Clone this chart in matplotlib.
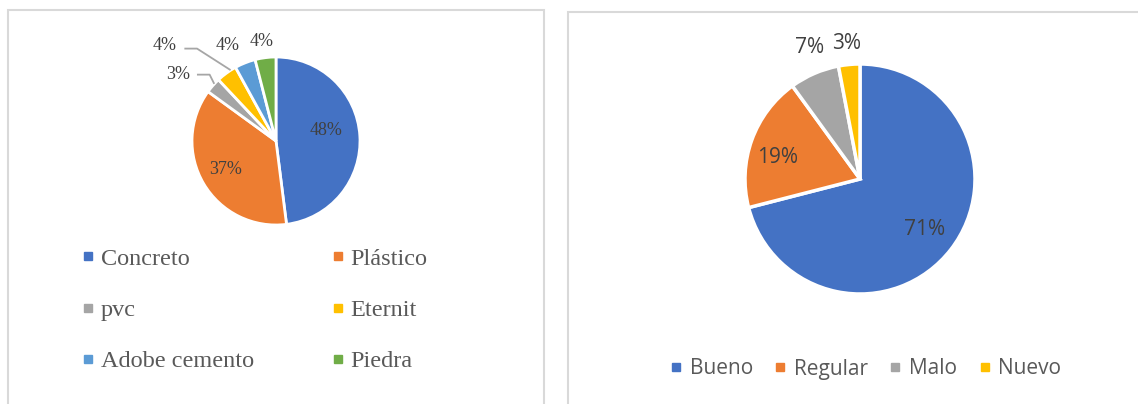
import matplotlib
matplotlib.use("Agg")
import matplotlib.pyplot as plt
from matplotlib.patches import Rectangle
from matplotlib.lines import Line2D
import numpy as np

# ---- data ----
mat_labels = ["Concreto", "Plástico", "pvc", "Eternit", "Adobe cemento", "Piedra"]
mat_values = [48, 37, 3, 4, 4, 4]
mat_colors = ["#4472C4", "#ED7D31", "#A5A5A5", "#FFC000", "#5B9BD5", "#70AD47"]

est_labels = ["Bueno", "Regular", "Malo", "Nuevo"]
est_values = [71, 19, 7, 3]
est_colors = ["#4472C4", "#ED7D31", "#A5A5A5", "#FFC000"]

W, H = 1138, 404
fig = plt.figure(figsize=(W / 100, H / 100), dpi=100)
fig.patch.set_facecolor("white")

TXT = "#404040"
LEG = "#595959"

def px_axes(cx, cy, r):
    return fig.add_axes([(cx - r) / W, (H - cy - r) / H, 2 * r / W, 2 * r / H])

# panel borders
fig.add_artist(Rectangle((8 / W, (H - 410) / H), (544 - 8) / W, 400 / H,
                         transform=fig.transFigure, fill=False,
                         edgecolor="#d9d9d9", linewidth=1.5))
fig.add_artist(Rectangle((568 / W, (H - 410) / H), (1145 - 568) / W, 398 / H,
                         transform=fig.transFigure, fill=False,
                         edgecolor="#d9d9d9", linewidth=1.5))

# ---------------- left pie ----------------
ax1 = px_axes(276, 141, 84)
wedges1, _ = ax1.pie(mat_values, colors=mat_colors, startangle=90, counterclock=False,
                     radius=1, wedgeprops=dict(edgecolor="white", linewidth=2))
ax1.set_xlim(-1, 1)
ax1.set_ylim(-1, 1)
ax1.set_aspect("auto")
ax1.axis("off")

serif = "Liberation Serif"
# label positions (layout) in pie-radius units
left_pos = [(0.595, 0.12), (-0.595, -0.345), (-1.17, 0.79), (-1.32, 1.14),
            (-0.58, 1.14), (-0.17, 1.18)]
left_leaders = {2: [(-0.93, 0.79), (-0.79, 0.79), (-0.74, 0.69)],
                3: [(-1.08, 1.10), (-0.94, 1.10), (-0.55, 0.85)]}
for i, v in enumerate(mat_values):
    x, y = left_pos[i]
    ax1.text(x, y, f"{v}%", ha="center", va="center", fontsize=13,
             family=serif, color=TXT, clip_on=False)
    if i in left_leaders:
        pts = np.array(left_leaders[i])
        ax1.plot(pts[:, 0], pts[:, 1], color="#A6A6A6", lw=1.3, clip_on=False)

handles1 = [Line2D([], [], marker="s", linestyle="", markersize=6,
                   markerfacecolor=c, markeredgecolor=c) for c in mat_colors]
order = [0, 2, 4, 1, 3, 5]
leg1 = fig.legend([handles1[i] for i in order], [mat_labels[i] for i in order],
                  ncol=2, loc="center left", bbox_to_anchor=(82 / W, (H - 310) / H),
                  frameon=False, prop=dict(family=serif, size=17.5),
                  handlelength=0.5, handletextpad=0.27, columnspacing=3.2,
                  labelspacing=1.21, borderpad=0, borderaxespad=0)
for t in leg1.get_texts():
    t.set_color(LEG)

# ---------------- right pie ----------------
ax2 = px_axes(860, 179, 115)
wedges2, _ = ax2.pie(est_values, colors=est_colors, startangle=90, counterclock=False,
                     radius=1, wedgeprops=dict(edgecolor="white", linewidth=2.5))
ax2.set_xlim(-1, 1)
ax2.set_ylim(-1, 1)
ax2.set_aspect("auto")
ax2.axis("off")

sans = "Open Sans"
right_pos = [(0.565, -0.443), (-0.713, 0.191), (-0.435, 1.14), (-0.113, 1.174)]
for (x, y), v in zip(right_pos, est_values):
    ax2.text(x, y, f"{v}%", ha="center", va="center",
             fontsize=15, family=sans, color=TXT, clip_on=False)

handles2 = [Line2D([], [], marker="s", linestyle="", markersize=6,
                   markerfacecolor=c, markeredgecolor=c) for c in est_colors]
leg2 = fig.legend(handles2, est_labels, ncol=4, loc="center",
                  bbox_to_anchor=(866 / W, (H - 369) / H),
                  frameon=False, prop=dict(family=sans, size=15),
                  handlelength=0.5, handletextpad=0.4, columnspacing=1.07,
                  borderpad=0, borderaxespad=0)
for t in leg2.get_texts():
    t.set_color(LEG)

fig.savefig("out.png", dpi=100, facecolor="white")
